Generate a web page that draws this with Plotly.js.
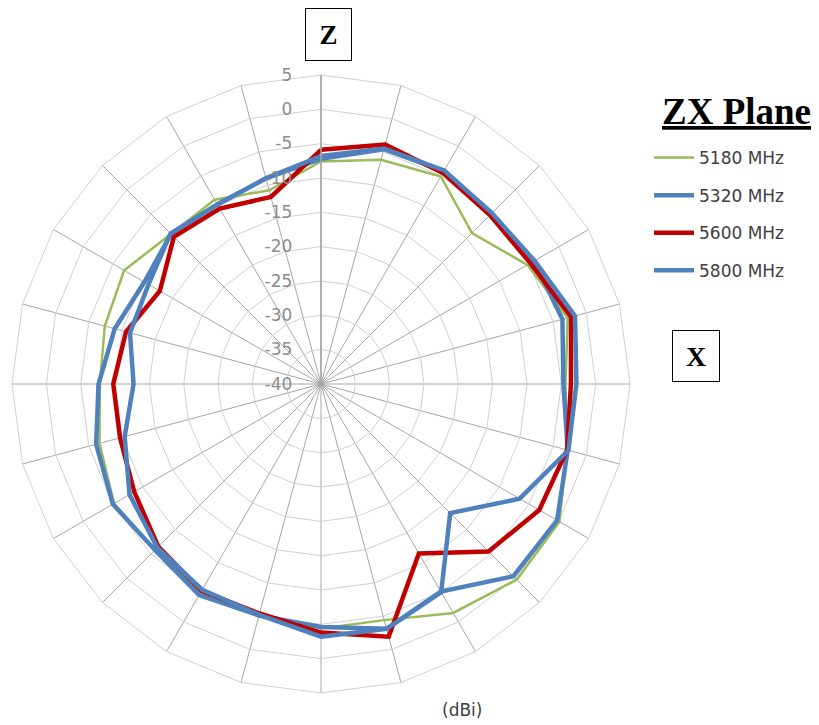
<!DOCTYPE html>
<html>
<head>
<meta charset="utf-8">
<script src="https://cdn.plot.ly/plotly-3.0.1.min.js"></script>
<style>html,body{margin:0;padding:0;background:#fff;}#chart{width:819px;height:725px;}</style>
</head>
<body>
<div id="chart"></div>
<script>
// Angles (degrees, clockwise from Z axis at top)
var angles = ['0','15','30','45','60','75','90','105','120','135','150','165',
              '180','195','210','225','240','255','270','285','300','315','330','345'];

var seriesNames = ['5180 MHz', '5320 MHz', '5600 MHz', '5800 MHz'];

// Gain values (dBi)
var gain5180 = [-7.6, -6.2, -5.1, -8.9, -5.3, -2.8, -4.4, -2.9, 0.1, 0.3, -1.5, -4.4,
                -4.4, -5.2, -5.0, -5.8, -5.2, -6.6, -7.8, -7.4, -6.9, -9.1, -9.0, -10.8];
var gain5320 = [-7.2, -4.6, -4.2, -4.9, -4.2, -3.6, -4.7, -2.8, -0.3, -0.4, -5.1, -3.1,
                -4.6, -5.1, -4.5, -5.8, -5.0, -6.1, -7.6, -8.9, -10.3, -9.1, -9.8, -9.0];
var gain5600 = [-5.9, -3.9, -4.5, -5.2, -4.8, -2.3, -3.6, -2.9, -3.3, -5.5, -11.5, -1.9,
                -3.8, -5.4, -5.2, -6.5, -8.6, -9.7, -9.75, -10.6, -12.9, -9.7, -10.5, -11.8];
var gain5800 = [-6.8, -4.5, -4.1, -4.8, -4.1, -1.7, -2.8, -2.7, -6.6, -13.4, -5.0, -3.1,
                -3.2, -5.2, -5.4, -6.3, -7.8, -10.4, -12.7, -11.2, -11.0, -9.0, -9.8, -9.0];

var radialTicks = [5, 0, -5, -10, -15, -20, -25, -30, -35, -40];

var seriesValues = [gain5180, gain5320, gain5600, gain5800];
var seriesColors = ['#9bbb59', '#4f81bd', '#c00000', '#4f81bd'];
var seriesWidths = [2.5, 4.5, 4.5, 4.5];

function closeLoop(a) { return a.concat([a[0]]); }

var traces = seriesValues.map(function (vals, i) {
  return {
    type: 'scatterpolar',
    mode: 'lines',
    name: seriesNames[i],
    legendgroup: 'g' + i,
    r: closeLoop(vals),
    theta: closeLoop(angles),
    line: { color: seriesColors[i], width: seriesWidths[i] },
    hoverinfo: 'skip'
  };
});

var W = 819, H = 725;
var cx = 321, cy = 384, R = 309;
var sans = 'DejaVu Sans, Verdana, sans-serif';
var serif = 'Liberation Serif, Times New Roman, serif';

var layout = {
  width: W, height: H,
  autosize: false,
  margin: { l: 0, r: 0, t: 0, b: 0, pad: 0 },
  paper_bgcolor: '#ffffff',
  plot_bgcolor: '#ffffff',
  font: { family: sans, color: '#404040', size: 16 },
  showlegend: true,
  legend: {
    x: 649 / W, y: 1 - 140 / H, xanchor: 'left', yanchor: 'top',
    bgcolor: 'rgba(0,0,0,0)',
    font: { family: sans, size: 17, color: '#404040' },
    traceorder: 'grouped',
    tracegroupgap: 12.5,
    itemwidth: 40
  },
  polar: {
    domain: { x: [(cx - R) / W, (cx + R) / W], y: [(H - cy - R) / H, (H - cy + R) / H] },
    bgcolor: '#ffffff',
    gridshape: 'linear',
    angularaxis: {
      type: 'category',
      categoryarray: angles,
      rotation: 90,
      direction: 'clockwise',
      showticklabels: false,
      ticks: '',
      showgrid: true,
      gridcolor: '#a6a6a6',
      gridwidth: 1,
      showline: true,
      linecolor: '#d0d0d0',
      linewidth: 1
    },
    radialaxis: {
      range: [-40, 5],
      tickvals: radialTicks,
      ticktext: radialTicks.map(String),
      angle: 90,
      side: 'counterclockwise',
      tickangle: 90,
      showline: true,
      linecolor: '#a6a6a6',
      linewidth: 1.5,
      gridcolor: '#d0d0d0',
      gridwidth: 1,
      ticks: 'outside',
      ticklen: 22,
      tickcolor: 'rgba(0,0,0,0)',
      tickfont: { family: sans, size: 17, color: '#8c8c8c' }
    }
  },
  annotations: [
    {
      xref: 'paper', yref: 'paper', x: 660 / W, y: 1 - 112 / H,
      xanchor: 'left', yanchor: 'middle', showarrow: false,
      text: '<b><u>ZX Plane</u></b>',
      font: { family: serif, size: 37, color: '#000000' }
    },
    {
      xref: 'paper', yref: 'paper', x: 328.5 / W, y: 1 - 34.5 / H,
      xanchor: 'center', yanchor: 'middle', showarrow: false,
      text: '<b>Z</b>', width: 45, height: 51,
      bordercolor: '#000000', borderwidth: 1, borderpad: 0, bgcolor: '#ffffff',
      font: { family: serif, size: 27, color: '#000000' }
    },
    {
      xref: 'paper', yref: 'paper', x: 696 / W, y: 1 - 356 / H,
      xanchor: 'center', yanchor: 'middle', showarrow: false,
      text: '<b>X</b>', width: 46, height: 50,
      bordercolor: '#000000', borderwidth: 1, borderpad: 0, bgcolor: '#ffffff',
      font: { family: serif, size: 28, color: '#000000' }
    },
    {
      xref: 'paper', yref: 'paper', x: 462 / W, y: 1 - 710 / H,
      xanchor: 'center', yanchor: 'middle', showarrow: false,
      text: '(dBi)',
      font: { family: sans, size: 17, color: '#404040' }
    }
  ]
};

Plotly.newPlot('chart', traces, layout, { staticPlot: true, displayModeBar: false });
</script>
</body>
</html>
